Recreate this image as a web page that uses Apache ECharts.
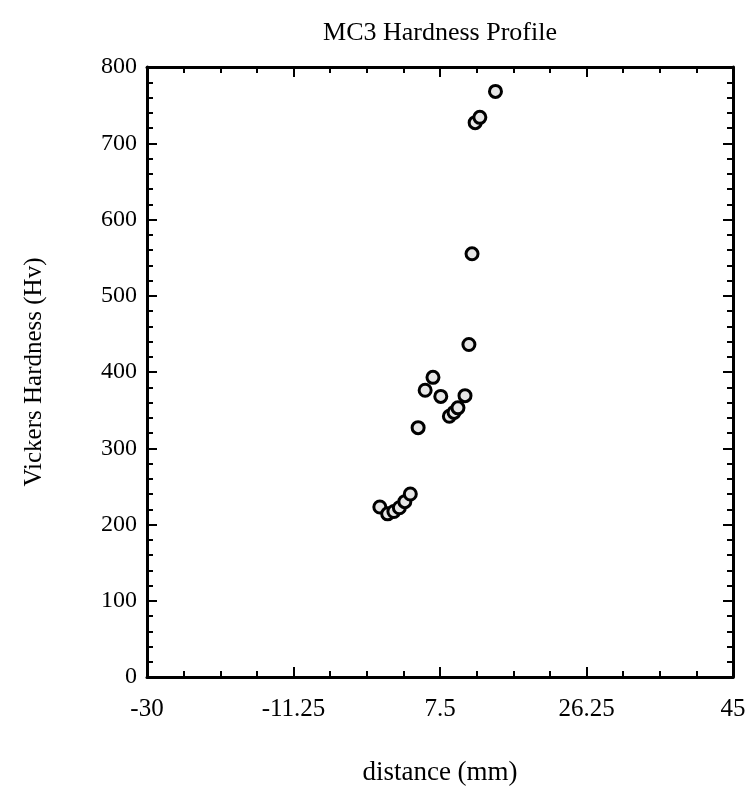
<!DOCTYPE html>
<html>
<head>
<meta charset="utf-8">
<script src="https://cdn.jsdelivr.net/npm/echarts@6/dist/echarts.min.js"></script>
<style>html,body{margin:0;padding:0;background:#fff}#c{width:754px;height:796px}</style>
</head>
<body>
<div id="c"></div>
<script>
var distance = [-0.2, 0.8, 1.6, 2.3, 3.0, 3.7, 4.7, 5.6, 6.6, 7.6, 8.7, 9.3, 9.8, 10.7, 11.2, 11.6, 12.0, 12.6, 14.6];
var hardness = [223, 214, 217, 222, 230, 240, 327, 376, 393, 368, 342, 347, 353, 369, 436, 555, 727, 734, 768];
var xTicks = [-30, -11.25, 7.5, 26.25, 45];
var yTicks = [0, 100, 200, 300, 400, 500, 600, 700, 800];

var points = distance.map(function (d, i) { return [d, hardness[i]]; });
var font = '"Liberation Serif", "DejaVu Serif", serif';
var chart = echarts.init(document.getElementById('c'));

function xAxisBase(pos, show) {
  return {
    type: 'value', position: pos, min: -30, max: 45, interval: 18.75,
    axisLine: { show: true, onZero: false, lineStyle: { color: '#000', width: 3 } },
    axisTick: { show: true, inside: true, length: 10, lineStyle: { color: '#000', width: 2 } },
    minorTick: { show: true, splitNumber: 4, length: 6, lineStyle: { color: '#000', width: 2 } },
    splitLine: { show: false },
    axisLabel: {
      show: show, margin: 20, color: '#000', fontFamily: font, fontSize: 25,
      formatter: function (v) { return xTicks.indexOf(v) >= 0 ? String(v) : ''; }
    }
  };
}
function yAxisBase(pos, show) {
  return {
    type: 'value', position: pos, min: 0, max: 800, interval: 100,
    axisLine: { show: true, onZero: false, lineStyle: { color: '#000', width: 3 } },
    axisTick: { show: true, inside: true, length: 10, lineStyle: { color: '#000', width: 2 } },
    minorTick: { show: true, splitNumber: 5, length: 6, lineStyle: { color: '#000', width: 2 } },
    splitLine: { show: false },
    axisLabel: {
      show: show, margin: 10, color: '#000', fontFamily: font, fontSize: 24,
      formatter: function (v) { return yTicks.indexOf(v) >= 0 ? String(v) : ''; }
    }
  };
}

var xb = xAxisBase('bottom', true);
xb.name = 'distance (mm)';
xb.nameLocation = 'middle';
xb.nameGap = 82;
xb.nameTextStyle = { color: '#000', fontFamily: font, fontSize: 27 };
var yl = yAxisBase('left', true);
yl.name = 'Vickers Hardness (Hv)';
yl.nameLocation = 'middle';
yl.nameGap = 100;
yl.nameTextStyle = { color: '#000', fontFamily: font, fontSize: 25 };

chart.setOption({
  backgroundColor: '#fff',
  animation: false,
  title: {
    text: 'MC3 Hardness Profile', left: 435, top: 15, textAlign: 'center',
    textStyle: { color: '#000', fontFamily: font, fontSize: 26, fontWeight: 'normal' }
  },
  grid: { left: 147, right: 21, top: 67, bottom: 119 },
  xAxis: [xb, xAxisBase('top', false)],
  yAxis: [yl, yAxisBase('right', false)],
  series: [{
    type: 'scatter', xAxisIndex: 0, yAxisIndex: 0,
    data: points, symbol: 'circle', symbolSize: 12,
    itemStyle: { color: '#e6e6e6', borderColor: '#000', borderWidth: 3, opacity: 1 }
  }]
});
</script>
</body>
</html>
